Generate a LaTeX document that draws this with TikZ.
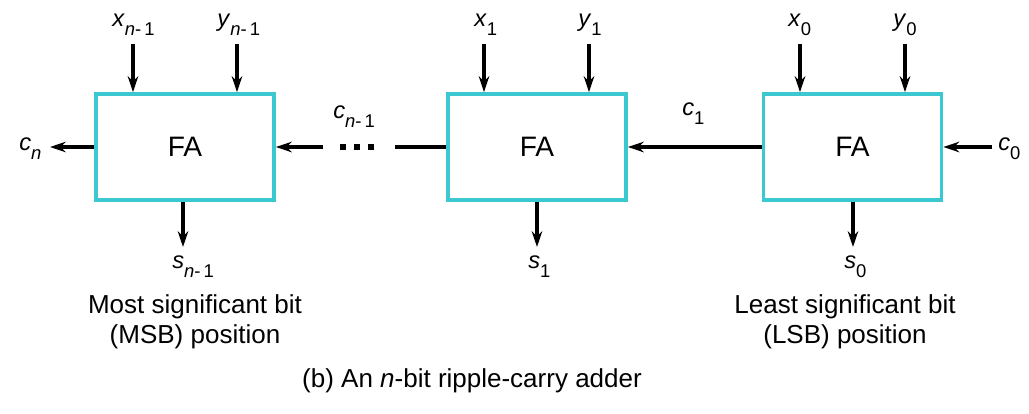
\documentclass[tikz,border=0pt]{standalone}
\usepackage{fontspec}
\setmainfont{Liberation Sans}
\usetikzlibrary{arrows.meta,positioning}
\definecolor{facyan}{RGB}{60,200,208}
\newcommand{\sig}[2]{\textit{#1}\raisebox{-0.75ex}{\fontsize{10.5}{10.5}\selectfont #2}}
\newcommand{\nmo}{\textit{n}-\,1}

\begin{document}
\begin{tikzpicture}[x=0.02cm, y=-0.02cm,
        every node/.style={font=\fontsize{13.5}{16}\selectfont},
        fabox/.style={rectangle, draw=facyan, line width=2.2pt, fill=white, minimum width=3.56cm, minimum height=2.12cm, font=\fontsize{16}{18}\selectfont},
        arrow/.style={-{Stealth[length=9pt,width=6pt]}, line width=2pt, draw=black},
        wire/.style={line width=2pt, draw=black},
        dots/.style={line width=3.6pt, dash pattern=on 3.6pt off 4.3pt, draw=black},
        lbl/.style={anchor=base west, inner sep=0pt},
        note/.style={align=center, font=\fontsize{14.8}{17}\selectfont}
        ]
        \useasboundingbox (0,0) rectangle (1029,413);

        % full adders
        \node[fabox] (famsb) at (185,147) {FA};
        \node[fabox] (fa1) at (537,147) {FA};
        \node[fabox] (falsb) at (852.5,147) {FA};

        % operand inputs
        \coordinate (xmsb) at (133,44);
        \coordinate (ymsb) at (237,44);
        \coordinate (xone) at (484,44);
        \coordinate (yone) at (589,44);
        \coordinate (xzero) at (800,44);
        \coordinate (yzero) at (905,44);
        \draw[arrow] (xmsb) -- (xmsb |- famsb.north);
        \draw[arrow] (ymsb) -- (ymsb |- famsb.north);
        \draw[arrow] (xone) -- (xone |- fa1.north);
        \draw[arrow] (yone) -- (yone |- fa1.north);
        \draw[arrow] (xzero) -- (xzero |- falsb.north);
        \draw[arrow] (yzero) -- (yzero |- falsb.north);

        % sum outputs
        \coordinate (smsb) at (183,247);
        \coordinate (sone) at (537,247);
        \coordinate (szero) at (853,247);
        \draw[arrow] (smsb |- famsb.south) -- (smsb);
        \draw[arrow] (sone |- fa1.south) -- (sone);
        \draw[arrow] (szero |- falsb.south) -- (szero);

        % carry chain
        \coordinate (cout) at (50,147);
        \coordinate (cdotsin) at (323,147);
        \coordinate (dotl) at (340,147);
        \coordinate (dotr) at (380,147);
        \coordinate (cdotsout) at (395,147);
        \coordinate (cin) at (992,147);
        \draw[arrow] (famsb.west) -- (cout);
        \draw[arrow] (cdotsin) -- (famsb.east);
        \draw[dots] (dotl) -- (dotr);
        \draw[wire] (fa1.west) -- (cdotsout);
        \draw[arrow] (falsb.west) -- (fa1.east);
        \draw[arrow] (cin) -- (falsb.east);

        % labels
        \node[lbl] (lxmsb) at (112,26) {\sig{x}{\nmo}};
        \node[lbl] (lymsb) at (217,26) {\sig{y}{\nmo}};
        \node[lbl] (lxone) at (474,26) {\sig{x}{1}};
        \node[lbl] (lyone) at (578,26) {\sig{y}{1}};
        \node[lbl] (lxzero) at (788,26) {\sig{x}{0}};
        \node[lbl] (lyzero) at (893,26) {\sig{y}{0}};
        \node[lbl] (lcout) at (19,150) {\sig{c}{\textit{n}}};
        \node[lbl] (lcdots) at (333,118) {\sig{c}{\nmo}};
        \node[lbl] (lcone) at (682,115) {\sig{c}{1}};
        \node[lbl] (lcin) at (998,150) {\sig{c}{0}};
        \node[lbl] (lsmsb) at (172,268) {\sig{s}{\nmo}};
        \node[lbl] (lsone) at (528,268) {\sig{s}{1}};
        \node[lbl] (lszero) at (844,268) {\sig{s}{0}};

        \node[note] (msb) at (195,322) {Most significant bit\\(MSB) position};
        \node[note] (lsb) at (845,322) {Least significant bit\\(LSB) position};
        \node[note] (caption) at (472,381) {(b) An \textit{n}-bit ripple-carry adder};

    \end{tikzpicture}
\end{document}
